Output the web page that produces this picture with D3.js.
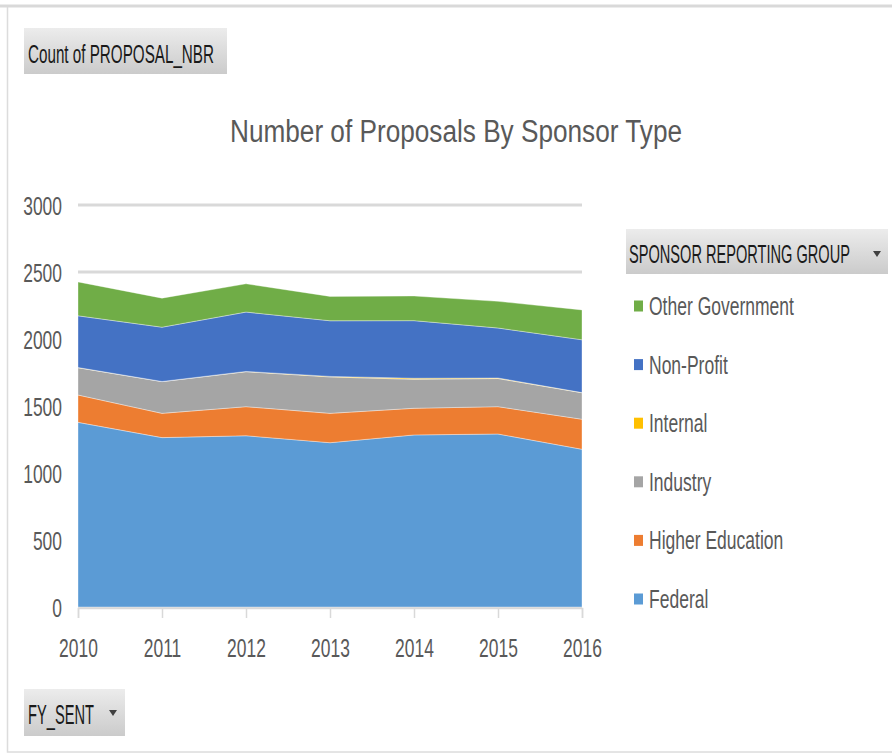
<!DOCTYPE html>
<html>
<head>
<meta charset="utf-8">
<script src="https://cdn.jsdelivr.net/npm/d3@7"></script>
<style>
  html, body { margin: 0; padding: 0; background: #fff; }
  svg { display: block; font-family: "Liberation Sans", Arial, sans-serif; }
</style>
</head>
<body>
<svg id="chart" width="892" height="755"></svg>
<script>
// ---- data ----
const years = [2010, 2011, 2012, 2013, 2014, 2015, 2016];
const seriesNames = ["Federal", "Higher Education", "Industry", "Internal", "Non-Profit", "Other Government"];
const federal         = [1378, 1264, 1278, 1226, 1284, 1291, 1177];
const higherEducation = [204, 181, 217, 219, 199, 204, 224];
const industry        = [204, 237, 261, 272, 216, 210, 198];
const internal        = [1, 1, 2, 4, 8, 4, 1];
const nonProfit       = [386, 405, 443, 415, 430, 373, 394];
const otherGovernment = [253, 217, 211, 182, 184, 199, 223];
const yTicks = [0, 500, 1000, 1500, 2000, 2500, 3000];
const legendOrder = ["Other Government", "Non-Profit", "Internal", "Industry", "Higher Education", "Federal"];
const colors = {
  "Federal": "#5B9BD5",
  "Higher Education": "#ED7D31",
  "Industry": "#A5A5A5",
  "Internal": "#FFC000",
  "Non-Profit": "#4472C4",
  "Other Government": "#70AD47"
};
const valuesBySeries = {
  "Federal": federal,
  "Higher Education": higherEducation,
  "Industry": industry,
  "Internal": internal,
  "Non-Profit": nonProfit,
  "Other Government": otherGovernment
};

// table for stacking
const table = years.map((y, i) => {
  const row = { year: y };
  seriesNames.forEach(s => row[s] = valuesBySeries[s][i]);
  return row;
});

const svg = d3.select("#chart");
const textColor = "#595959";

function squeeze(sel, k) {
  sel.each(function () {
    const len = this.getComputedTextLength();
    d3.select(this).attr("textLength", len * k).attr("lengthAdjust", "spacingAndGlyphs");
  });
}
// horizontally scale a text placed at (x, y) so it spans a target width
function fitText(parent, xPos, yPos, str, size, fill, width) {
  const g = parent.append("g").attr("transform", `translate(${xPos},${yPos})`);
  const t = g.append("text").attr("x", 0).attr("y", 0).attr("font-size", size).attr("fill", fill).text(str);
  const len = t.node().getComputedTextLength();
  g.attr("transform", `translate(${xPos},${yPos}) scale(${width / len},1)`);
  return g;
}

// frame
svg.append("rect").attr("x", 7.5).attr("y", 6).attr("width", 900).attr("height", 746)
  .attr("fill", "none").attr("stroke", "#dcdcdc").attr("stroke-width", 1.5);
svg.append("line").attr("x1", 0).attr("x2", 892).attr("y1", 6).attr("y2", 6)
  .attr("stroke", "#d9d9d9").attr("stroke-width", 3);

// gradient for buttons
const defs = svg.append("defs");
const grad = defs.append("linearGradient").attr("id", "btn").attr("x1", 0).attr("x2", 0).attr("y1", 0).attr("y2", 1);
grad.append("stop").attr("offset", "0%").attr("stop-color", "#ececec");
grad.append("stop").attr("offset", "100%").attr("stop-color", "#cbcbcb");

// scales
const x = d3.scaleLinear().domain([2010, 2016]).range([78, 582]);
const y = d3.scaleLinear().domain([0, 3000]).range([607, 205]);

// gridlines
svg.append("g").selectAll("line").data(yTicks).join("line")
  .attr("x1", 78).attr("x2", 582)
  .attr("y1", d => y(d)).attr("y2", d => y(d))
  .attr("stroke", "#d9d9d9").attr("stroke-width", 3);

// stacked areas
const stack = d3.stack().keys(seriesNames);
const layers = stack(table);
const area = d3.area()
  .x(d => x(d.data.year))
  .y0(d => y(d[0]))
  .y1(d => y(d[1]));
svg.append("g").selectAll("path").data(layers).join("path")
  .attr("d", area)
  .attr("fill", d => colors[d.key])
  .attr("stroke", "#ffffff").attr("stroke-opacity", 0.45).attr("stroke-width", 0.8);

// x axis
const xAxis = svg.append("g").attr("transform", "translate(0,608)")
  .call(d3.axisBottom(x).tickValues(years).tickFormat(d3.format("d")).tickSize(10).tickPadding(21));
xAxis.select(".domain").attr("stroke", "#d9d9d9").attr("stroke-width", 1.5);
xAxis.selectAll(".tick line").attr("stroke", "#d9d9d9").attr("stroke-width", 1.5);
xAxis.selectAll(".tick text").attr("fill", textColor).attr("font-size", 26)
  .attr("font-family", "Liberation Sans, Arial, sans-serif").attr("dy", "0.71em")
  .call(squeeze, 0.67);

// y axis labels
const yAxis = svg.append("g").attr("transform", "translate(62,0)")
  .call(d3.axisLeft(y).tickValues(yTicks).tickFormat(d3.format("d")).tickSize(0).tickPadding(0));
yAxis.select(".domain").remove();
yAxis.selectAll(".tick text").attr("fill", textColor).attr("font-size", 26)
  .attr("font-family", "Liberation Sans, Arial, sans-serif").attr("dy", "0.35em")
  .call(squeeze, 0.67);

// title
svg.append("text").attr("x", 456).attr("y", 142).attr("text-anchor", "middle")
  .attr("font-size", 31).attr("fill", textColor)
  .attr("textLength", 452).attr("lengthAdjust", "spacingAndGlyphs")
  .text("Number of Proposals By Sponsor Type");

// Count button
svg.append("rect").attr("x", 24).attr("y", 28).attr("width", 203).attr("height", 46).attr("fill", "url(#btn)");
fitText(svg, 28, 63, "Count of PROPOSAL_NBR", 26, "#1a1a1a", 186);

// FY_SENT button
svg.append("rect").attr("x", 24).attr("y", 689).attr("width", 101).attr("height", 47).attr("fill", "url(#btn)");
fitText(svg, 28, 724, "FY_SENT", 27, "#1a1a1a", 66);
svg.append("path").attr("d", "M109,710 L117,710 L113,716 Z").attr("fill", "#404040");

// Legend header
svg.append("rect").attr("x", 626).attr("y", 229).attr("width", 262).attr("height", 45).attr("fill", "url(#btn)");
fitText(svg, 629, 263, "SPONSOR REPORTING GROUP", 26, "#1a1a1a", 221);
svg.append("path").attr("d", "M873,251 L881,251 L877,257 Z").attr("fill", "#404040");

// Legend items
const legend = svg.append("g").selectAll("g").data(legendOrder).join("g")
  .attr("transform", (d, i) => `translate(634,${306 + i * 58.6})`);
legend.append("rect").attr("x", 0).attr("y", -5.5).attr("width", 9).attr("height", 11)
  .attr("fill", d => colors[d]);
legend.append("text").attr("x", 15).attr("y", 9).attr("font-size", 25).attr("fill", textColor)
  .text(d => d)
  .call(squeeze, 0.7);
</script>
</body>
</html>
